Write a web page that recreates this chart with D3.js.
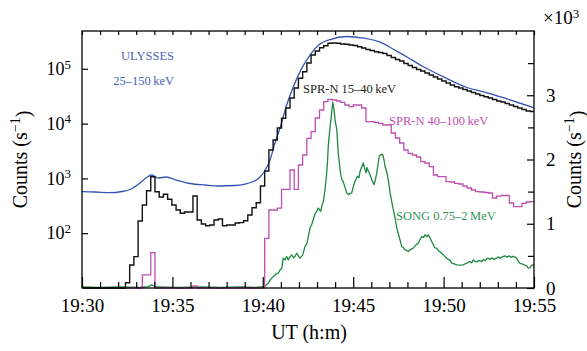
<!DOCTYPE html>
<html>
<head>
<meta charset="utf-8">
<script src="https://cdn.jsdelivr.net/npm/d3@7"></script>
<style>
  body { margin: 0; background: #fff; }
  svg { display: block; font-family: "Liberation Serif", "Times New Roman", serif; }
  text { font-family: "Liberation Serif", "Times New Roman", serif; }
</style>
</head>
<body>
<svg id="chart" width="587" height="351"></svg>
<script>
// ---- axes ----
const xTickMinutes = [0, 5, 10, 15, 20, 25];            // minutes after 19:30 UT
const xTickLabels = ["19:30", "19:35", "19:40", "19:45", "19:50", "19:55"];
const logTicks = [1e2, 1e3, 1e4, 1e5];
const logTickExponents = ["2", "3", "4", "5"];
const linTicks = [0, 1000, 2000, 3000];
const linTickLabels = ["0", "1", "2", "3"];
const linMinorTicks = [500, 1500, 2500, 3500];

// ---- ULYSSES 25-150 keV (counts/s, left log axis) ----
const ulyssesT = [0, 0.72, 1.55, 2.21, 2.65, 3.21, 3.54, 3.87, 4.20, 4.65, 5.20, 5.97, 6.80, 7.63, 8.46, 9.02, 9.40, 9.73, 10.07,
  10.40, 10.67, 10.95, 11.32, 11.69, 12.15, 12.61, 13.16, 13.72, 14.66, 15.54, 16.65, 17.20, 17.98, 18.86, 19.97, 21.29, 22.18, 23.29, 25.0];
const ulyssesV = [572, 565, 548, 577, 627, 824, 1016, 1153, 1016, 1062, 935, 807, 758, 727, 742, 790, 860, 975, 1308,
  2167, 4426, 8312, 21850, 47140, 102100, 178600, 283600, 342500, 388600, 364600, 291600, 229600, 164000, 110200, 71780, 45600, 38200, 29700, 19400];

// ---- SPR-N, 14 s bins starting 0.07 min after 19:30 (counts/s, left log axis) ----
const sprBinStart = 0.07;
const sprBinWidth = 14 / 60;
const sprLow = [ // 15-40 keV
  10, 10, 10, 10, 10, 10, 10, 10, 10, 10,
  12.5, 26.3, 37.3, 167, 327, 596, 1074, 572, 458, 513,
  416, 327, 265, 231, 244, 244, 477, 174, 147, 137,
  141, 174, 182, 137, 141, 141, 154, 156, 169, 215,
  292, 360, 727, 1365, 3298, 5021, 8312, 12497, 19260, 29330,
  44630, 67080, 88550, 127600, 178600, 211200, 242700, 264000, 292100, 295800,
  292100, 283600, 280000, 271900, 266300, 253200, 239700, 225000, 215800, 205100,
  198300, 190200, 174900, 160800, 147800, 138800, 125000, 114900, 105600, 97100,
  91200, 83800, 77100, 70900, 65150, 59900, 55060, 50620, 47140, 44630,
  41920, 39340, 36940, 34690, 32570, 30970, 29330, 27540, 25850, 24790,
  23270, 21850, 20510, 19260, 18090, 16980, 16630
];
const sprHigh = [ // 40-100 keV
  10, 10, 10, 10, 10, 10, 10, 10, 10, 10,
  10, 10, 10, 10, 17.3, 17.3, 44.1, 10, 10, 10,
  10, 10, 10, 10, 10, 10, 10.9, 10, 10, 10,
  10, 10, 10, 10, 10, 10, 10, 10, 10, 10,
  10, 10, 10, 80.7, 265, 265, 288, 632, 632, 1423,
  632, 1756, 2673, 5393, 7115, 12650, 17710, 25100, 27760, 26960,
  25850, 24480, 21850, 20350, 21850, 21850, 19260, 10830, 10830, 10560,
  10130, 9430, 9430, 6740, 5460, 4426, 3298, 2871, 2673, 2458,
  2017, 1910, 1635, 1153, 1074, 1074, 871, 860, 814, 790,
  727, 668, 614, 572, 565, 553, 542, 439, 477, 488,
  488, 356, 305, 305, 351, 371, 376
];

// ---- SONG 0.75-2 MeV (counts/s, right linear axis) ----
const songT = [
  0, 1.0, 2.1, 3.2, 3.65, 3.87, 4.09, 5.42, 6.53, 7.63,
  8.74, 9.57, 10.03, 10.18, 10.30, 10.45, 10.58, 10.73, 10.86, 10.95,
  11.05, 11.13, 11.23, 11.32, 11.41, 11.5, 11.6, 11.70, 11.78, 11.87,
  11.97, 12.06, 12.21, 12.33, 12.43, 12.52, 12.61, 12.70, 12.79, 12.89,
  12.98, 13.07, 13.20, 13.27, 13.35, 13.44, 13.50, 13.57, 13.62, 13.68,
  13.72, 13.77, 13.87, 13.94, 13.99, 14.09, 14.18, 14.31, 14.38, 14.45,
  14.55, 14.64, 14.73, 14.82, 14.92, 15.02, 15.10, 15.23, 15.32, 15.38,
  15.46, 15.56, 15.62, 15.71, 15.76, 15.84, 15.93, 16.02, 16.15, 16.23,
  16.30, 16.37, 16.44, 16.54, 16.63, 16.70, 16.76, 16.89, 16.98, 17.04,
  17.13, 17.22, 17.31, 17.41, 17.51, 17.59, 17.68, 17.78, 17.86, 17.96,
  18.05, 18.14, 18.24, 18.32, 18.42, 18.51, 18.60, 18.69, 18.79, 18.89,
  18.97, 19.07, 19.15, 19.25, 19.34, 19.44, 19.52, 19.62, 19.72, 19.80,
  19.98, 20.17, 20.35, 20.45, 20.58, 20.72, 20.91, 21.07, 21.28, 21.38,
  21.46, 21.55, 21.64, 21.74, 21.85, 21.96, 22.11, 22.21, 22.29, 22.38,
  22.47, 22.57, 22.68, 22.79, 22.94, 23.04, 23.12, 23.23, 23.40, 23.51,
  23.62, 23.73, 23.84, 23.95, 24.03, 24.12, 24.23, 24.34, 24.45, 24.60,
  24.68, 24.78, 24.86, 24.96, 25.0
];
const songV = [
  16, 8, 16, 8, 23, 47, 16, 8, 16, 8,
  16, 8, 20, 47, 73, 141, 177, 219, 230, 281,
  308, 464, 438, 489, 438, 484, 516, 469, 489, 542,
  500, 464, 516, 645, 688, 802, 933, 984, 1063, 1156,
  1192, 1245, 1192, 1281, 1348, 1531, 1688, 1922, 2200, 2391,
  2500, 2625, 2891, 2781, 2625, 2469, 2078, 1766, 1688, 1656,
  1563, 1480, 1453, 1469, 1480, 1594, 1661, 1739, 1719, 1817,
  1875, 1948, 1875, 1792, 1875, 1817, 1766, 1688, 1609, 1688,
  1792, 1922, 2052, 2078, 2078, 2000, 1895, 1766, 1609, 1480,
  1344, 1219, 1094, 938, 828, 750, 645, 625, 594, 586,
  567, 594, 609, 620, 656, 680, 698, 750, 802, 789,
  828, 797, 828, 781, 723, 672, 625, 620, 578, 563,
  516, 464, 430, 386, 375, 359, 355, 359, 386, 406,
  411, 391, 438, 414, 406, 430, 411, 445, 422, 453,
  464, 445, 469, 445, 464, 484, 461, 484, 500, 480,
  500, 477, 492, 480, 469, 422, 383, 375, 359, 344,
  308, 313, 352, 359, 344
];

// ---- drawing ----
const W = 587, H = 351;
const plot = { left: 82, right: 534, top: 31, bottom: 288 };
const C = { blue: "#3553b6", blueText: "#4a63b7", black: "#111111", magenta: "#c04fb2", green: "#1d8a40", greenText: "#2f9655" };
const SERIF = '"Liberation Serif", "Times New Roman", serif';

const svg = d3.select("#chart");
const x = d3.scaleLinear().domain([0, 25]).range([plot.left, plot.right]);
const yLog = d3.scaleLog().domain([10, 4.9e5]).range([plot.bottom, plot.top]).clamp(true);
const yLin = d3.scaleLinear().domain([0, 4000]).range([plot.bottom, plot.top]);

svg.append("defs").append("clipPath").attr("id", "plotClip")
  .append("rect").attr("x", plot.left).attr("y", plot.top - 1)
  .attr("width", plot.right - plot.left).attr("height", plot.bottom - plot.top + 2);

const series = svg.append("g").attr("clip-path", "url(#plotClip)");

function binPoints(values) {
  const pts = values.map((v, i) => [sprBinStart + i * sprBinWidth, v]);
  pts.push([sprBinStart + values.length * sprBinWidth, values[values.length - 1]]);
  return pts;
}

const stepLine = d3.line().x(d => x(d[0])).y(d => yLog(d[1])).curve(d3.curveStepAfter);

// SONG (right axis)
series.append("path")
  .datum(songT.map((t, i) => [t, songV[i]]))
  .attr("fill", "none").attr("stroke", C.green).attr("stroke-width", 1.3).attr("stroke-linejoin", "round")
  .attr("d", d3.line().x(d => x(d[0])).y(d => yLin(d[1])));

// SPR-N 40-100 keV
series.append("path").datum(binPoints(sprHigh))
  .attr("fill", "none").attr("stroke", C.magenta).attr("stroke-width", 1.3)
  .attr("d", stepLine);

// ULYSSES
series.append("path")
  .datum(ulyssesT.map((t, i) => [t, ulyssesV[i]]))
  .attr("fill", "none").attr("stroke", C.blue).attr("stroke-width", 1.3)
  .attr("d", d3.line().x(d => x(d[0])).y(d => yLog(d[1])).curve(d3.curveMonotoneX));

// SPR-N 15-40 keV
series.append("path").datum(binPoints(sprLow))
  .attr("fill", "none").attr("stroke", C.black).attr("stroke-width", 1.4)
  .attr("d", stepLine);

// frame
svg.append("rect")
  .attr("x", plot.left).attr("y", plot.top)
  .attr("width", plot.right - plot.left).attr("height", plot.bottom - plot.top)
  .attr("fill", "none").attr("stroke", "#000").attr("stroke-width", 1.3);

function styleAxis(g) {
  g.attr("font-family", SERIF);
  g.select(".domain").remove();
  g.selectAll(".tick line").attr("stroke", "#000").attr("stroke-width", 1.2);
  g.selectAll("text").attr("font-size", 19).attr("fill", "#000").attr("font-family", SERIF);
}

// bottom axis: labelled ticks every 5 min, minor every minute
svg.append("g").attr("transform", `translate(0,${plot.bottom})`)
  .call(d3.axisBottom(x).tickValues(xTickMinutes).tickSizeInner(-11).tickSizeOuter(0).tickPadding(11)
    .tickFormat((d, i) => xTickLabels[i]))
  .call(styleAxis);
svg.append("g").attr("transform", `translate(0,${plot.bottom})`)
  .call(d3.axisBottom(x).tickValues(d3.range(0, 26).filter(m => m % 5 !== 0)).tickSizeInner(-6).tickSizeOuter(0).tickFormat(""))
  .call(styleAxis);

// top axis: minute ticks
svg.append("g").attr("transform", `translate(0,${plot.top})`)
  .call(d3.axisTop(x).tickValues(d3.range(0, 26)).tickSizeInner(-4).tickSizeOuter(0).tickFormat(""))
  .call(styleAxis);

// left log axis
const leftAxis = svg.append("g").attr("transform", `translate(${plot.left},0)`)
  .call(d3.axisLeft(yLog).tickValues(logTicks).tickSizeInner(-6).tickSizeOuter(0).tickPadding(11).tickFormat(() => ""))
  .call(styleAxis);
leftAxis.selectAll(".tick text").each(function (d, i) {
  const t = d3.select(this).attr("font-size", 18);
  t.append("tspan").text("10");
  t.append("tspan").attr("dy", "-0.5em").attr("font-size", 13).text(logTickExponents[i]);
});

// right linear axis (×10^3)
svg.append("g").attr("transform", `translate(${plot.right},0)`)
  .call(d3.axisRight(yLin).tickValues(linTicks).tickSizeInner(-7).tickSizeOuter(0).tickPadding(12)
    .tickFormat((d, i) => linTickLabels[i]))
  .call(styleAxis);
svg.append("g").attr("transform", `translate(${plot.right},0)`)
  .call(d3.axisRight(yLin).tickValues(linMinorTicks).tickSizeInner(-6).tickSizeOuter(0).tickFormat(""))
  .call(styleAxis);

const mult = svg.append("text").attr("x", 543).attr("y", 24).attr("font-size", 19).attr("fill", "#000");
mult.append("tspan").text("×10");
mult.append("tspan").attr("dy", "-0.5em").attr("font-size", 13).text("3");

// axis titles
function countsTitle(xPos) {
  const t = svg.append("text")
    .attr("transform", `translate(${xPos},${(plot.top + plot.bottom) / 2}) rotate(-90)`)
    .attr("text-anchor", "middle").attr("font-size", 20).attr("fill", "#000");
  t.append("tspan").text("Counts (s");
  t.append("tspan").attr("dy", "-0.5em").attr("font-size", 14).text("−1");
  t.append("tspan").attr("dy", "0.5em").text(")");
}
countsTitle(27);
countsTitle(581);

svg.append("text").attr("x", (plot.left + plot.right) / 2 + 1).attr("y", 339)
  .attr("text-anchor", "middle").attr("font-size", 20).attr("fill", "#000").text("UT (h:m)");

// series labels
const label = (xp, yp, txt, col, anchor) => svg.append("text")
  .attr("x", xp).attr("y", yp).attr("font-size", 12.5).attr("fill", col)
  .attr("text-anchor", anchor || "start").text(txt);
label(174, 60, "ULYSSES", C.blueText, "end");
label(174, 85, "25–150\u2009keV", C.blueText, "end");
label(303, 93, "SPR-N 15–40\u2009keV", "#222");
label(389, 125, "SPR-N 40–100\u2009keV", C.magenta);
label(396, 220, "SONG 0.75–2\u2009MeV", C.greenText);
</script>
</body>
</html>
